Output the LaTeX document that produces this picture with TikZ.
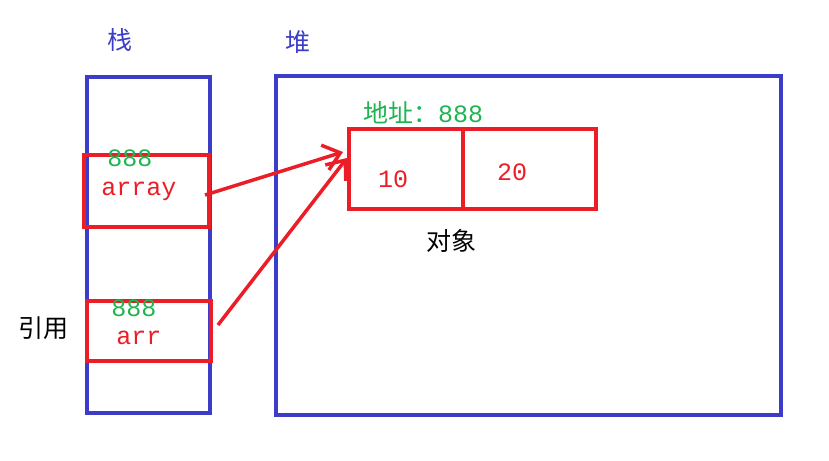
\documentclass[tikz,border=0pt]{standalone}
\usepackage{fontspec}
\newfontfamily\cjk{Noto Sans CJK SC}
\setmonofont{Liberation Mono}
\usetikzlibrary{arrows.meta}
\definecolor{bl}{RGB}{60,60,200}
\definecolor{rd}{RGB}{235,30,40}
\definecolor{gr}{RGB}{30,180,80}
\begin{document}
\begin{tikzpicture}[x=1pt,y=-1pt,
  bbox/.style={draw=bl,line width=4pt},
  rbox/.style={draw=rd,line width=4pt},
  lab/.style={inner sep=0pt,font=\fontsize{25}{25}\selectfont\ttfamily},
  clab/.style={inner sep=0pt,font=\fontsize{25}{25}\selectfont\cjk},
  arr/.style={rd,line width=3.5pt,-{Straight Barb[length=16pt,width=26pt,line width=3.5pt]}}]
\useasboundingbox (0,0) rectangle (829,460);
\draw[bbox] (87,77) rectangle (210,413);
\draw[bbox] (276,76) rectangle (781,415);
\node[clab,bl] (s) at (120,40) {栈};
\node[clab,bl] (h) at (298,42) {堆};
\draw[rbox] (84,155) rectangle (209,227);
\draw[rbox] (87,301) rectangle (211,361);
\draw[rbox] (349,129) rectangle (596,209);
\draw[rbox] (463,129) -- (463,209);
\coordinate (o) at (347,158);
\coordinate (a1) at (205,195);
\coordinate (a2) at (218,325);
\node[clab,gr] (ad) at (423,113) {地址：\ttfamily 888};
\node[lab,gr] (n1) at (130,158) {888};
\node[lab,rd] (t1) at (139,191) {array};
\node[lab,gr] (n2) at (134,308) {888};
\node[lab,rd] (t2) at (139,338) {arr};
\node[clab] (yy) at (43,328) {引用};
\node[clab] (dx) at (451,241) {对象};
\node[lab,rd] (v1) at (393,179) {10};
\node[lab,rd] (v2) at (512,172) {20};
\draw[arr] (a1) -- (343,152);
\draw[arr] (a2) -- (o);
\end{tikzpicture}
\end{document}
